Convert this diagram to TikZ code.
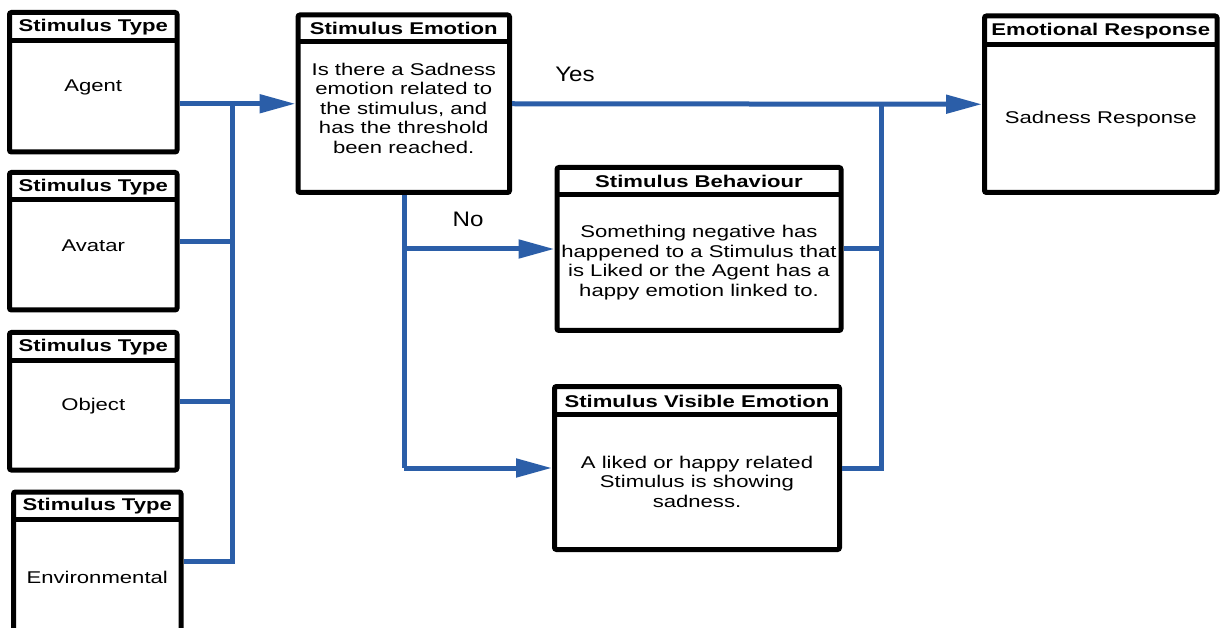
\documentclass[tikz,border=0pt]{standalone}
\usepackage{fontspec}
\setmainfont[FakeStretch=1.3]{Liberation Sans}
\newfontfamily\branchfont[FakeStretch=1.15]{Liberation Sans}
\usetikzlibrary{arrows.meta}
\definecolor{flowblue}{RGB}{43,94,168}
\tikzset{
  boxshape/.style={draw=black, fill=white, line width=5pt, rectangle, rounded corners=2pt, inner sep=0pt},
  boxline/.style={draw=black, line width=5pt},
  titletext/.style={font=\fontsize{17}{19.5}\selectfont\bfseries, inner sep=0pt},
  bodytext/.style={font=\fontsize{17}{19.5}\selectfont, align=center, inner sep=0pt},
  branchtext/.style={font=\branchfont\fontsize{21}{24}\selectfont, inner sep=0pt},
  conn/.style={draw=flowblue, line width=5pt, line join=miter},
  arr/.style={-{Triangle[length=36pt,width=18pt]}},
}
% name, x1, y1, x2, y2, divider y, title, body text, body text y
\newcommand\flowbox[9]{%
  \node[boxshape, minimum width={#4-#2}, minimum height={#5-#3}] (#1) at ({(#2+#4)/2},{(#3+#5)/2}) {};
  \draw[boxline] (#2,#6) -- (#4,#6);
  \node[titletext] (#1-title) at ({(#2+#4)/2},{(#3+#6)/2+0.5}) {#7};
  \node[bodytext] (#1-text) at ({(#2+#4)/2},#9) {#8};
}
\begin{document}
\begin{tikzpicture}[x=1pt,y=-1pt]
\useasboundingbox (0,0) rectangle (1221,628);
\clip (0,0) rectangle (1221,628);
\fill[white] (0,0) rectangle (1221,628);

% stimulus types
\flowbox{agent}{9.5}{12.5}{177}{152}{40.5}{Stimulus Type}{Agent}{87}
\flowbox{avatar}{9.5}{172.5}{177}{310}{200}{Stimulus Type}{Avatar}{246}
\flowbox{object}{9.5}{332.5}{177}{470}{360}{Stimulus Type}{Object}{406}
\flowbox{env}{13.5}{492}{181}{640}{519}{Stimulus Type}{Environmental}{577}

% decision and outcomes
\flowbox{se}{298}{15}{509.5}{192.5}{41.5}{Stimulus Emotion}{Is there a Sadness\\emotion related to\\the stimulus, and\\has the threshold\\been reached.}{108}
\flowbox{beh}{557}{167.5}{841}{330.5}{194.5}{Stimulus Behaviour}{Something negative has\\happened to a Stimulus that\\is Liked or the Agent has a\\happy emotion linked to.}{262.5}
\flowbox{vis}{554.5}{386.5}{839.5}{549.5}{414.5}{Stimulus Visible Emotion}{A liked or happy related\\Stimulus is showing\\sadness.}{481.5}
\flowbox{er}{984.5}{16}{1217}{192.5}{44.5}{Emotional Response}{Sadness Response}{119}

% bus positions
\coordinate (busL) at (232.5,0);
\coordinate (busN) at (404,0);
\coordinate (busR) at (881.5,0);
\coordinate (jEnv) at (232.5,561);

% inputs into the emotion check
\draw[conn,arr] (agent.east |- se.west) -- (se.west);
\draw[conn] (busL |- se.west) -- (jEnv) -- (env.east |- jEnv);
\draw[conn] (avatar.east) -- (busL |- avatar.east);
\draw[conn] (object.east) -- (busL |- object.east);

% yes branch
\draw[conn,arr] (se.east) -- (er.west);
\node[branchtext] (yes) at (575,74) {Yes};
\draw[conn] (beh.east) -- (busR |- beh.east);
\draw[conn] (vis.east) -- (busR |- vis.east) -- (busR |- er.west);

% no branch
\draw[conn] (busN |- se.south) -- (busN |- vis.west);
\draw[conn,arr] (busN |- beh.west) -- (beh.west);
\draw[conn,arr] (busN |- vis.west) -- (vis.west);
\node[branchtext] (no) at (468,219.5) {No};
\end{tikzpicture}
\end{document}
